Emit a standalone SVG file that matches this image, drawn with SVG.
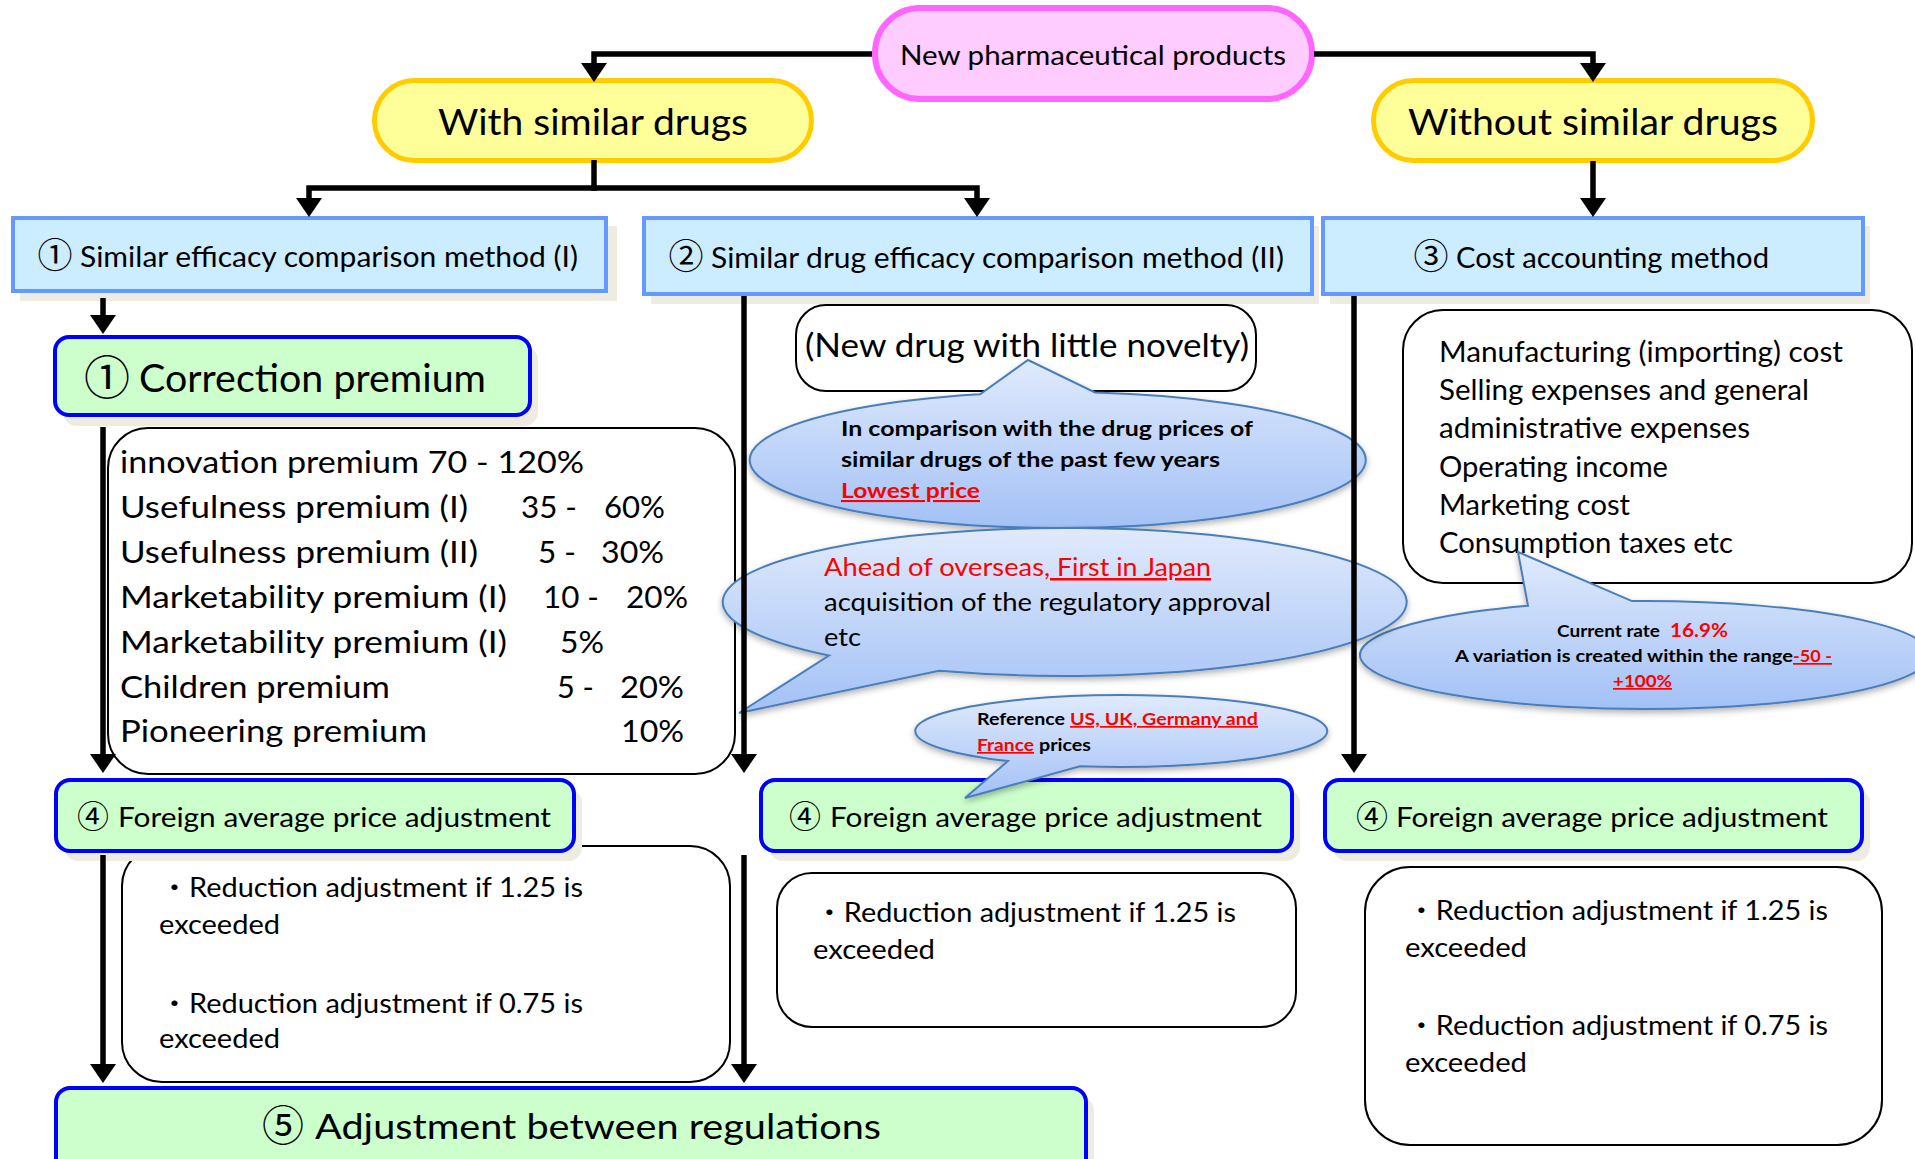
<svg xmlns="http://www.w3.org/2000/svg" width="1915" height="1159" viewBox="0 0 1915 1159">
<style>
text{font-family:Lato,"Noto Sans CJK JP",sans-serif;fill:#000}
.cd{font-family:"Noto Sans CJK JP","DejaVu Sans",sans-serif;text-anchor:middle}
.b{font-weight:bold}
.r{fill:#FF0000}
.u{text-decoration:underline}
.pill-p{fill:#FFCCFF;stroke:#FF66FF;stroke-width:6}
.pill-y{fill:#FFFF99;stroke:#FFCC00;stroke-width:5}
.blue{fill:#CCECFF;stroke:#6699FF;stroke-width:4}
.green{fill:#CCFFCC;stroke:#0000FF;stroke-width:4}
.shadow{fill:#EEECE1}
.white{fill:#FFFFFF;stroke:#000;stroke-width:2}
.bubble{fill:url(#bg);stroke:#4A7EBB;stroke-width:2;filter:url(#ds)}
.conn{fill:none;stroke:#000;stroke-width:5.5;marker-end:url(#arr)}
.line{fill:none;stroke:#000;stroke-width:5.5}
</style>
<defs>
<linearGradient id="bg" x1="0" y1="0" x2="0" y2="1">
<stop offset="0" stop-color="#E0EAFC"/>
<stop offset="1" stop-color="#A3C1F6"/>
</linearGradient>
<filter id="ds" x="-10%" y="-20%" width="120%" height="150%">
<feDropShadow dx="0" dy="3" stdDeviation="3" flood-color="#000" flood-opacity="0.3"/>
</filter>
<marker id="arr" markerUnits="userSpaceOnUse" viewBox="0 0 20 28" markerWidth="20" markerHeight="28" refX="8" refY="14" orient="auto">
<path d="M0,1 L19,14 L0,27 Z" fill="#000"/>
</marker>
</defs>

<g id="node-new">
<rect class="pill-p" x="875" y="8" width="437" height="91" rx="45"/>
<text x="900" y="65" font-size="27" textLength="386" lengthAdjust="spacingAndGlyphs">New pharmaceutical products</text>
</g>
<g id="node-with">
<rect class="pill-y" x="374.5" y="80.5" width="437" height="80" rx="40"/>
<text x="438" y="135" font-size="37" textLength="310" lengthAdjust="spacingAndGlyphs">With similar drugs</text>
</g>
<g id="node-without">
<rect class="pill-y" x="1373.5" y="80.5" width="439" height="80" rx="40"/>
<text x="1408" y="135" font-size="37" textLength="370" lengthAdjust="spacingAndGlyphs">Without similar drugs</text>
</g>

<g id="node-method1">
<rect class="shadow" x="20" y="226" width="597" height="75"/>
<rect class="blue" x="13" y="218" width="593" height="73"/>
<text class="cd" x="55" y="268" font-size="35">①</text>
<text x="80" y="267" font-size="29" textLength="498" lengthAdjust="spacingAndGlyphs">Similar efficacy comparison method (I)</text>
</g>
<g id="node-method2">
<rect class="shadow" x="651" y="226" width="668" height="78"/>
<rect class="blue" x="644" y="218" width="668" height="76"/>
<text class="cd" x="686" y="269" font-size="35">②</text>
<text x="711" y="268" font-size="29" textLength="573" lengthAdjust="spacingAndGlyphs">Similar drug efficacy comparison method (II)</text>
</g>
<g id="node-method3">
<rect class="shadow" x="1330" y="226" width="540" height="78"/>
<rect class="blue" x="1323" y="218" width="540" height="76"/>
<text class="cd" x="1431" y="269" font-size="35">③</text>
<text x="1456" y="268" font-size="29" textLength="313" lengthAdjust="spacingAndGlyphs">Cost accounting method</text>
</g>

<g id="node-correction">
<rect class="shadow" x="63" y="346" width="475" height="80" rx="14"/>
<rect class="green" x="55" y="337" width="475" height="78" rx="14"/>
<text class="cd" x="107" y="394" font-size="46">①</text>
<text x="139" y="392" font-size="38" textLength="347" lengthAdjust="spacingAndGlyphs">Correction premium</text>
</g>

<g id="node-premiums">
<rect class="white" x="108" y="428" width="627" height="346" rx="40"/>
<g font-size="31">
<text x="120" y="473" textLength="464" lengthAdjust="spacingAndGlyphs">innovation premium 70 - 120%</text>
<text x="120" y="518" textLength="348" lengthAdjust="spacingAndGlyphs">Usefulness premium (I)</text>
<text x="521" y="518" textLength="56" lengthAdjust="spacingAndGlyphs">35 -</text>
<text x="604" y="518" textLength="61" lengthAdjust="spacingAndGlyphs">60%</text>
<text x="120" y="563" textLength="358" lengthAdjust="spacingAndGlyphs">Usefulness premium (II)</text>
<text x="538" y="563" textLength="38" lengthAdjust="spacingAndGlyphs">5 -</text>
<text x="601" y="563" textLength="63" lengthAdjust="spacingAndGlyphs">30%</text>
<text x="120" y="608" textLength="387" lengthAdjust="spacingAndGlyphs">Marketability premium (I)</text>
<text x="543" y="608" textLength="56" lengthAdjust="spacingAndGlyphs">10 -</text>
<text x="626" y="608" textLength="62" lengthAdjust="spacingAndGlyphs">20%</text>
<text x="120" y="653" textLength="387" lengthAdjust="spacingAndGlyphs">Marketability premium (I)</text>
<text x="560" y="653" textLength="44" lengthAdjust="spacingAndGlyphs">5%</text>
<text x="120" y="698" textLength="270" lengthAdjust="spacingAndGlyphs">Children premium</text>
<text x="557" y="698" textLength="37" lengthAdjust="spacingAndGlyphs">5 -</text>
<text x="620" y="698" textLength="64" lengthAdjust="spacingAndGlyphs">20%</text>
<text x="120" y="742" textLength="307" lengthAdjust="spacingAndGlyphs">Pioneering premium</text>
<text x="621" y="742" textLength="63" lengthAdjust="spacingAndGlyphs">10%</text>
</g>
</g>

<g id="node-novelty">
<rect class="white" x="796" y="305" width="460" height="86" rx="30"/>
<text x="805" y="357" font-size="32" textLength="444" lengthAdjust="spacingAndGlyphs">(New drug with little novelty)</text>
</g>

<g id="node-costs">
<rect class="white" x="1403" y="310" width="509" height="273" rx="40"/>
<g font-size="28">
<text x="1439" y="362" textLength="404" lengthAdjust="spacingAndGlyphs">Manufacturing (importing) cost</text>
<text x="1439" y="400" textLength="370" lengthAdjust="spacingAndGlyphs">Selling expenses and general</text>
<text x="1439" y="438" textLength="311" lengthAdjust="spacingAndGlyphs">administrative expenses</text>
<text x="1439" y="477" textLength="229" lengthAdjust="spacingAndGlyphs">Operating income</text>
<text x="1439" y="515" textLength="191" lengthAdjust="spacingAndGlyphs">Marketing cost</text>
<text x="1439" y="553" textLength="294" lengthAdjust="spacingAndGlyphs">Consumption taxes etc</text>
</g>
</g>

<g id="node-reduction1">
<rect class="white" x="122" y="846" width="608" height="236" rx="40"/>
<g font-size="26">
<text x="160" y="897" textLength="423" lengthAdjust="spacingAndGlyphs">・Reduction adjustment if 1.25 is</text>
<text x="159" y="934" textLength="121" lengthAdjust="spacingAndGlyphs">exceeded</text>
<text x="160" y="1013" textLength="423" lengthAdjust="spacingAndGlyphs">・Reduction adjustment if 0.75 is</text>
<text x="159" y="1048" textLength="121" lengthAdjust="spacingAndGlyphs">exceeded</text>
</g>
</g>
<g id="node-reduction2">
<rect class="white" x="777" y="873" width="519" height="154" rx="35"/>
<g font-size="26">
<text x="815" y="922" textLength="421" lengthAdjust="spacingAndGlyphs">・Reduction adjustment if 1.25 is</text>
<text x="813" y="959" textLength="122" lengthAdjust="spacingAndGlyphs">exceeded</text>
</g>
</g>
<g id="node-reduction3">
<rect class="white" x="1365" y="867" width="517" height="278" rx="45"/>
<g font-size="26">
<text x="1407" y="920" textLength="421" lengthAdjust="spacingAndGlyphs">・Reduction adjustment if 1.25 is</text>
<text x="1405" y="957" textLength="122" lengthAdjust="spacingAndGlyphs">exceeded</text>
<text x="1407" y="1035" textLength="421" lengthAdjust="spacingAndGlyphs">・Reduction adjustment if 0.75 is</text>
<text x="1405" y="1072" textLength="122" lengthAdjust="spacingAndGlyphs">exceeded</text>
</g>
</g>

<g id="node-foreign1">
<rect class="shadow" x="64" y="789" width="518" height="72" rx="14"/>
<rect class="green" x="56" y="780" width="518" height="71" rx="14"/>
<text class="cd" x="93" y="828" font-size="32">④</text>
<text x="118" y="827" font-size="27" textLength="433" lengthAdjust="spacingAndGlyphs">Foreign average price adjustment</text>
</g>
<g id="node-foreign2">
<rect class="shadow" x="769" y="789" width="531" height="72" rx="14"/>
<rect class="green" x="761" y="780" width="531" height="71" rx="14"/>
<text class="cd" x="805" y="828" font-size="32">④</text>
<text x="830" y="827" font-size="27" textLength="432" lengthAdjust="spacingAndGlyphs">Foreign average price adjustment</text>
</g>
<g id="node-foreign3">
<rect class="shadow" x="1333" y="789" width="537" height="72" rx="14"/>
<rect class="green" x="1325" y="780" width="537" height="71" rx="14"/>
<text class="cd" x="1372" y="828" font-size="32">④</text>
<text x="1396" y="827" font-size="27" textLength="432" lengthAdjust="spacingAndGlyphs">Foreign average price adjustment</text>
</g>

<g id="node-adjustment">
<rect class="shadow" x="64" y="1097" width="1030" height="90" rx="14"/>
<rect class="green" x="56" y="1088" width="1030" height="90" rx="14"/>
<text class="cd" x="283" y="1141" font-size="42">⑤</text>
<text x="315" y="1139" font-size="35" textLength="566" lengthAdjust="spacingAndGlyphs">Adjustment between regulations</text>
</g>

<g id="bubble-lowest">
<path class="bubble" d="M1095,392.5 A308,68 0 1 1 980,394.2 L1028,360 Z"/>
<g class="b" font-size="21">
<text x="841" y="436" textLength="412" lengthAdjust="spacingAndGlyphs">In comparison with the drug prices of</text>
<text x="841" y="467" textLength="379" lengthAdjust="spacingAndGlyphs">similar drugs of the past few years</text>
<text class="r u" x="841" y="498" textLength="139" lengthAdjust="spacingAndGlyphs">Lowest price</text>
</g>
</g>

<g id="bubble-rate">
<path class="bubble" d="M1632,601.1 A285,54 0 1 1 1528,605.8 L1518,552 Z"/>
<g class="b" font-size="17">
<text x="1557" y="637" textLength="103" lengthAdjust="spacingAndGlyphs">Current rate</text>
<text class="r" x="1670" y="637" font-size="19" textLength="58" lengthAdjust="spacingAndGlyphs">16.9%</text>
<text x="1455" y="662" textLength="338" lengthAdjust="spacingAndGlyphs">A variation is created within the range</text>
<text class="r u" x="1793" y="662" textLength="39" lengthAdjust="spacingAndGlyphs">-50 -</text>
<text class="r u" x="1613" y="687" textLength="59" lengthAdjust="spacingAndGlyphs">+100%</text>
</g>
</g>

<g id="bubble-first">
<path class="bubble" d="M829,655.6 A342,74 0 1 1 939,670.8 L739,713 Z"/>
<g font-size="25">
<text class="r" x="824" y="576" textLength="220" lengthAdjust="spacingAndGlyphs">Ahead of overseas</text>
<text class="r u" x="1044" y="576" textLength="167" lengthAdjust="spacingAndGlyphs">, First in Japan</text>
<text x="824" y="611" textLength="447" lengthAdjust="spacingAndGlyphs">acquisition of the regulatory approval</text>
<text x="824" y="646" textLength="37" lengthAdjust="spacingAndGlyphs">etc</text>
</g>
</g>

<g id="bubble-reference">
<path class="bubble" d="M1008,761.1 A206,36 0 1 1 1080,766.3 L965,798 Z"/>
<g class="b" font-size="17">
<text x="977" y="725" textLength="88" lengthAdjust="spacingAndGlyphs">Reference</text>
<text class="r u" x="1070" y="725" textLength="188" lengthAdjust="spacingAndGlyphs">US, UK, Germany and</text>
<text class="r u" x="977" y="751" textLength="57" lengthAdjust="spacingAndGlyphs">France</text>
<text x="1039" y="751" textLength="52" lengthAdjust="spacingAndGlyphs">prices</text>
</g>
</g>

<g id="connectors">
<path class="conn" d="M872,54 H594 V71"/>
<path class="conn" d="M1314,54 H1593 V71"/>
<path class="line" d="M594,160 V188"/>
<path class="conn" d="M597,188 H309 V206"/>
<path class="conn" d="M591,188 H977 V206"/>
<path class="conn" d="M1593,161 V206"/>
<path class="conn" d="M103,298 V323"/>
<path class="conn" d="M103,427 V762"/>
<path class="conn" d="M744,296 V762"/>
<path class="conn" d="M1354,296 V762"/>
<path class="conn" d="M103,855 V1072"/>
<path class="conn" d="M744,855 V1072"/>
</g>
</svg>
